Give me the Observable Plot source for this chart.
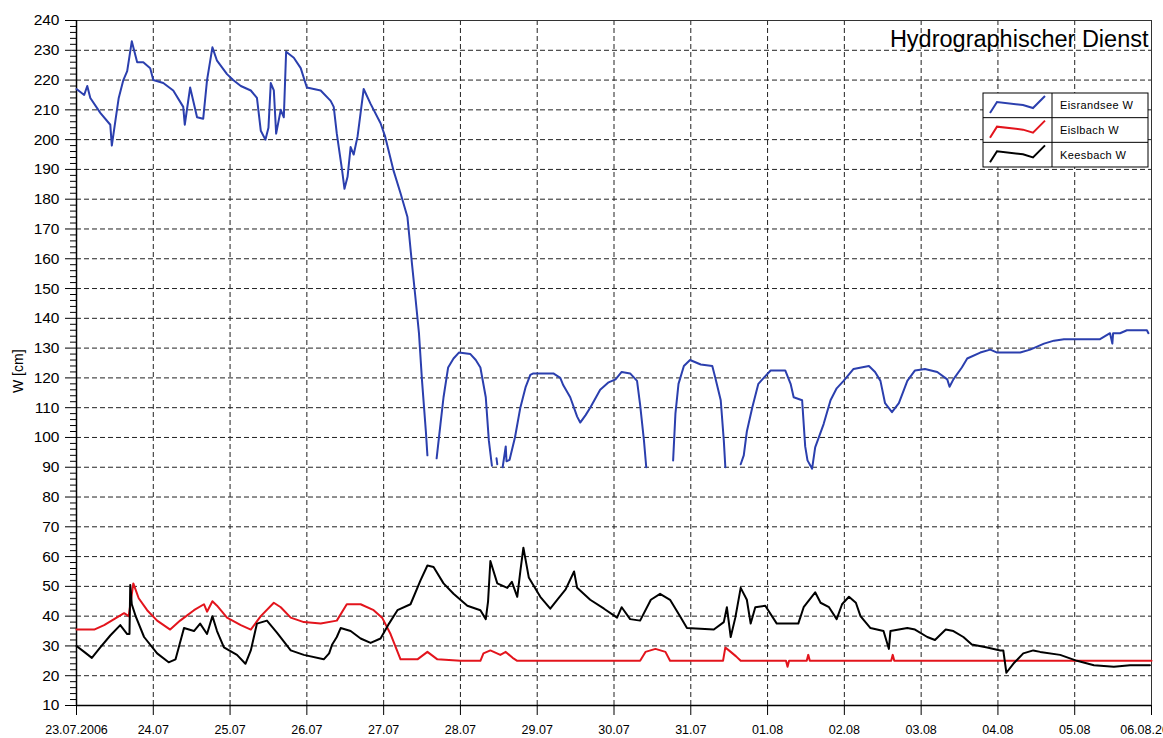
<!DOCTYPE html>
<html><head><meta charset="utf-8">
<script src="https://cdn.jsdelivr.net/npm/d3@7"></script>
<script src="https://cdn.jsdelivr.net/npm/@observablehq/plot@0.6"></script>
<style>
body{margin:0;background:#fff;}
#chart{position:relative;width:1163px;height:738px;overflow:hidden;}
#chart svg{font-family:Arial,"Liberation Sans",sans-serif;}
</style></head><body><div id="chart"></div>
<script>
// ---- data (day offset from 23.07.2006 00:00, water level W in cm) ----
const startDate = Date.UTC(2006, 6, 23);
const seriesNames = ["Eisrandsee W", "Eislbach W", "Keesbach W"];
const seriesColors = ["#2b3fae", "#e3141c", "#000000"];
const titleText = "Hydrographischer Dienst";
const yLabel = "W [cm]";
const xTickDays = [0,1,2,3,4,5,6,7,8,9,10,11,12,13,14];
const xTickLabels = ["23.07.2006","24.07","25.07","26.07","27.07","28.07","29.07","30.07","31.07","01.08","02.08","03.08","04.08","05.08","06.08.2006"];
const yTicks = [10,20,30,40,50,60,70,80,90,100,110,120,130,140,150,160,170,180,190,200,210,220,230,240];
const yMinorTicks = [12,14,16,18,22,24,26,28,32,34,36,38,42,44,46,48,52,54,56,58,62,64,66,68,72,74,76,78,82,84,86,88,92,94,96,98,102,104,106,108,112,114,116,118,122,124,126,128,132,134,136,138,142,144,146,148,152,154,156,158,162,164,166,168,172,174,176,178,182,184,186,188,192,194,196,198,202,204,206,208,212,214,216,218,222,224,226,228,232,234,236,238];

const eisrandsee = [
[0.00,217],[0.10,215],[0.14,218],[0.18,214],[0.31,209],[0.44,205],[0.46,198],[0.51,207],[0.55,214],[0.61,220],[0.66,223],[0.72,233],[0.79,226],[0.87,226],[0.96,224],[1.00,220],[1.13,219],[1.26,216.5],[1.39,211],[1.41,205],[1.48,217.5],[1.57,207.5],[1.65,207],[1.70,220],[1.77,231],[1.83,226.5],[1.96,222],[2.04,220],[2.14,218],[2.27,216.5],[2.35,214],[2.40,203],[2.46,200],[2.50,204],[2.53,219],[2.57,216.5],[2.60,202],[2.66,210],[2.70,207.5],[2.73,229.5],[2.83,227.5],[2.92,224],[3.00,217.5],[3.18,216.5],[3.31,213],[3.35,211],[3.39,202],[3.46,189.5],[3.49,183.5],[3.53,187.5],[3.57,197.5],[3.61,195],[3.66,201],[3.70,209],[3.74,217],[3.83,212],[3.96,205.5],[4.02,201],[4.13,189.5],[4.22,182],[4.31,174],[4.37,158],[4.41,148],[4.46,135],[4.50,119],[4.55,102],[4.57,94],
[4.63,null],
[4.69,93],[4.74,104.5],[4.78,113.5],[4.84,123.5],[4.91,126.5],[4.98,128.5],[5.13,128],[5.20,126],[5.26,123.5],[5.33,113.5],[5.37,99],[5.41,90.5],
[5.44,null],
[5.47,93],[5.48,91],
[5.52,null],
[5.55,90],[5.59,97],[5.60,92],[5.64,92.5],[5.71,100],[5.78,110],[5.85,117],[5.91,121],[5.95,121.5],[6.04,121.5],[6.21,121.5],[6.30,120],[6.34,117.5],[6.43,113.5],[6.52,107],[6.56,105],[6.63,107.5],[6.69,110],[6.82,116],[6.93,118.5],[7.02,119.5],[7.10,122],[7.21,121.5],[7.30,119],[7.34,111],[7.39,99],[7.42,90],
[7.60,null],
[7.77,92.3],[7.80,108],[7.84,118],[7.91,124],[7.99,126],[8.13,124.5],[8.28,124],[8.32,120],[8.39,112.5],[8.43,99],[8.45,90],
[8.55,null],
[8.65,91],[8.69,94],[8.73,102],[8.80,110],[8.88,118],[8.95,120],[9.04,122.5],[9.23,122.5],[9.30,118],[9.34,113.5],[9.45,112.5],[9.49,97],[9.52,92.3],[9.58,89.5],[9.62,96.7],[9.73,104.5],[9.82,112.5],[9.90,116.5],[9.99,119],[10.12,123],[10.32,124],[10.40,122],[10.47,119],[10.53,111.5],[10.62,108.5],[10.71,111.5],[10.82,119],[10.92,122.5],[11.05,123],[11.21,122],[11.34,119.5],[11.37,117],[11.42,119.5],[11.53,123.5],[11.60,126.5],[11.77,128.5],[11.90,129.5],[11.99,128.5],[12.29,128.5],[12.42,129.5],[12.60,131.5],[12.73,132.5],[12.86,133],[13.33,133],[13.46,135],[13.49,131.5],[13.50,135],[13.59,135],[13.68,136],[13.94,136],[13.96,135]
];

const eislbach = [
[0.00,35.5],[0.23,35.5],[0.36,37],[0.49,39],[0.62,41],[0.68,40],[0.74,51],[0.81,46],[0.92,42],[1.05,38.5],[1.22,35.5],[1.35,38.5],[1.53,42],[1.66,44],[1.70,41.5],[1.77,45],[1.83,43.5],[1.96,39.5],[2.14,37],[2.27,35.5],[2.40,40],[2.57,44.5],[2.66,43],[2.79,39.5],[2.96,38],[3.18,37.5],[3.39,38.5],[3.52,44],[3.70,44],[3.87,42],[3.98,39.5],[4.09,34],[4.22,25.5],[4.44,25.5],[4.57,28],[4.70,25.5],[5.00,25],[5.26,25],[5.30,27.5],[5.39,28.5],[5.52,27],[5.59,28],[5.68,26],[5.74,25],[7.34,25],[7.41,28],[7.54,29],[7.67,28],[7.73,25],[8.42,25],[8.45,29.5],[8.52,28],[8.59,26.5],[8.65,25],[9.24,25],[9.26,23],[9.28,25],[9.51,25],[9.53,27],[9.55,25],[10.61,25],[10.63,27],[10.65,25],[14.00,25]
];

const keesbach = [
[0.00,30],[0.10,28],[0.20,26],[0.31,29.5],[0.44,33.5],[0.57,37],[0.66,34],[0.69,34],[0.70,50.5],[0.72,44],[0.77,40],[0.88,33],[1.05,27.5],[1.20,24.5],[1.29,25.5],[1.40,36],[1.53,35],[1.61,37.5],[1.70,34],[1.77,40],[1.83,35],[1.92,29.5],[2.09,27],[2.20,24],[2.27,28.5],[2.35,37.5],[2.48,38.5],[2.61,34.5],[2.79,28.5],[2.96,27],[3.22,25.5],[3.29,27.5],[3.33,30.5],[3.39,33],[3.44,36],[3.57,35],[3.70,32.5],[3.83,31],[3.96,32.5],[4.07,37.5],[4.18,42],[4.35,44],[4.48,52],[4.57,57],[4.65,56.5],[4.78,51],[4.91,47.5],[5.09,43.5],[5.26,42],[5.33,39],[5.36,45],[5.39,58.5],[5.48,51],[5.61,49.5],[5.67,51.5],[5.74,46.5],[5.78,55],[5.82,63],[5.89,53],[6.04,46.5],[6.17,42.5],[6.26,45.5],[6.37,49],[6.48,55],[6.52,49.5],[6.69,45.5],[6.87,42.5],[7.04,39.5],[7.10,43],[7.21,39],[7.34,38.5],[7.48,45.5],[7.60,47.5],[7.73,45.5],[7.86,40],[7.95,36],[8.30,35.5],[8.43,38],[8.47,43],[8.52,33],[8.58,39.5],[8.65,49.5],[8.73,45.5],[8.78,37.5],[8.84,43],[8.97,43.5],[9.12,37.5],[9.40,37.5],[9.47,43],[9.62,48],[9.69,44.5],[9.80,43],[9.90,39],[9.97,44],[10.06,46.5],[10.15,44.5],[10.21,40],[10.34,36],[10.51,35],[10.58,29],[10.60,35],[10.82,36],[10.92,35.5],[11.08,33],[11.18,32],[11.32,35.5],[11.42,35],[11.55,33],[11.66,30.5],[11.86,29.5],[12.03,28.5],[12.07,28.5],[12.11,21],[12.20,24],[12.33,27.5],[12.46,28.5],[12.55,28],[12.81,27],[13.03,25],[13.25,23.5],[13.51,23],[13.72,23.5],[13.98,23.5]
];

// ---- build table ----
const DAY = 86400000;
const toDate = d => new Date(startDate + d * DAY);
const seriesData = [eisrandsee, eislbach, keesbach];
const rows = [];
seriesData.forEach((arr, i) => arr.forEach(([d, v]) => rows.push({t: toDate(d), v, s: seriesNames[i]})));
const labelByTime = new Map(xTickDays.map((d, i) => [+toDate(d), xTickLabels[i]]));
const xTicks = xTickDays.map(toDate);

const font = 'Arial, "Liberation Sans", sans-serif';
const plot = Plot.plot({
  width: 1163,
  height: 738,
  marginLeft: 76,
  marginRight: 12,
  marginTop: 20,
  marginBottom: 33,
  style: {fontFamily: font, background: "#fff", color: "#000"},
  x: {type: "utc", domain: [toDate(0), toDate(14)]},
  y: {domain: [10, 240]},
  color: {domain: seriesNames, range: seriesColors},
  marks: [
    Plot.gridX(xTicks, {stroke: "#222", strokeOpacity: 1, strokeDasharray: "5,3"}),
    Plot.gridY(yTicks, {stroke: "#222", strokeOpacity: 1, strokeDasharray: "5,3"}),
    Plot.frame({stroke: "#333", strokeWidth: 1}),
    Plot.axisY(yMinorTicks, {tickSize: 6, text: null, label: null, stroke: "#000"}),
    Plot.axisY(yTicks, {tickSize: 11, tickPadding: 6, fontSize: 15.5, label: null, stroke: "#000"}),
    Plot.axisX(xTicks, {tickSize: 10, tickPadding: 10, fontSize: 12.5, label: null, stroke: "#000",
      tickFormat: d => labelByTime.get(+d)}),
    Plot.ruleX([toDate(0)], {stroke: "#000", strokeWidth: 1.5}),
    Plot.ruleY([10], {stroke: "#000", strokeWidth: 1.5}),
    Plot.line(rows, {x: "t", y: "v", z: "s", stroke: "s", strokeWidth: 2, curve: "linear"}),
    Plot.text([titleText], {frameAnchor: "top-right", textAnchor: "end", lineAnchor: "top", dx: -3, dy: 10, fontSize: 23.5, fill: "#000"}),
    Plot.text([yLabel], {frameAnchor: "left", rotate: -90, dx: -58, dy: 30, fontSize: 14, fill: "#000"})
  ]
});
document.getElementById("chart").appendChild(plot);

// ---- legend box (top right, inside plot) ----
const svg = d3.select(plot);
const lgX = 983, lgY = 93, lgW = 165, lgH = 74, lgSplit = 69, rowH = lgH / seriesNames.length;
const lg = svg.append("g").attr("transform", `translate(${lgX},${lgY})`);
lg.append("rect").attr("width", lgW).attr("height", lgH).attr("fill", "#fff").attr("stroke", "#000").attr("stroke-width", 1);
const sample = [[7, 20], [14, 9], [40, 12], [50, 15], [62, 3]];
seriesNames.forEach((name, i) => {
  const g = lg.append("g").attr("transform", `translate(0,${i * rowH})`);
  if (i > 0) g.append("line").attr("x1", 0).attr("x2", lgW).attr("y1", 0).attr("y2", 0).attr("stroke", "#000");
  g.append("path").attr("d", d3.line()(sample)).attr("fill", "none").attr("stroke", seriesColors[i]).attr("stroke-width", 2);
  g.append("text").attr("x", lgSplit + 8).attr("y", rowH / 2).attr("dy", "0.35em")
    .attr("text-anchor", "start").attr("font-size", 11).attr("letter-spacing", "0.4px").attr("fill", "#000").text(name);
});
lg.append("line").attr("x1", lgSplit).attr("x2", lgSplit).attr("y1", 0).attr("y2", lgH).attr("stroke", "#000").attr("stroke-width", 1);
</script>
</body></html>
